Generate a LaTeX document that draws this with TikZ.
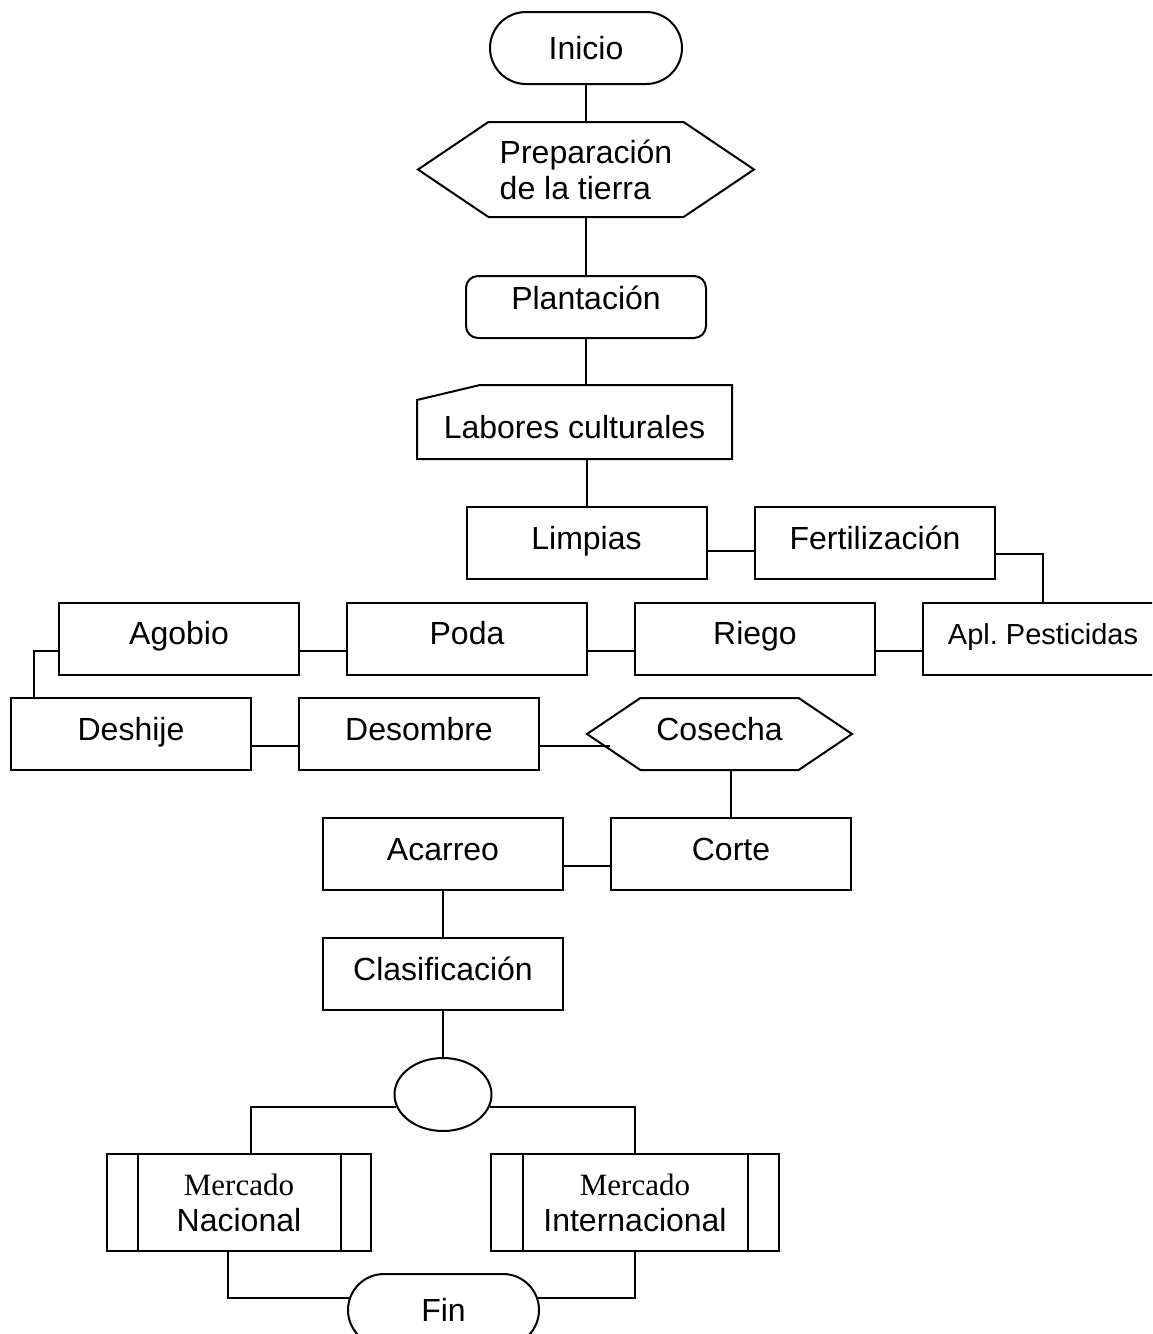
\documentclass[tikz,border=0pt]{standalone}
\usepackage{fontspec}
\setmainfont{Liberation Sans}
\newfontfamily\serifmerc{Liberation Serif}
\usetikzlibrary{shapes.geometric,shapes.misc,shapes.symbols}
\tikzset{
	caja/.style={draw, rectangle, minimum width=120pt, minimum height=36pt, inner sep=0pt, text height=11pt, text depth=5pt},
	terminal/.style={draw, rounded rectangle, minimum width=96pt, minimum height=36pt, inner sep=0pt},
	hexa/.style={draw, signal, signal to=west and east, signal pointer angle=68, inner sep=0pt},
	subproc/.style={draw, rectangle, minimum height=48.5pt, inner sep=0pt, align=center},
}
\begin{document}
\begin{tikzpicture}[x=0.5pt, y=-0.5pt, line width=1pt, font=\fontsize{16pt}{18pt}\selectfont]
	\clip (0,0) rectangle (1152,1334);
	\fill[white] (0,0) rectangle (1152,1334);

	\node[terminal] (inicio) at (586,48) {Inicio};
	\node[hexa, minimum width=168pt, minimum height=47.5pt, align=left] (prep) at (586,169.5) {Preparación\\de la tierra};
	\node[draw, rectangle, rounded corners=6pt, minimum width=120pt, minimum height=31pt, inner sep=0pt, text height=8pt, text depth=5.3pt] (plant) at (586,307) {Plantación};

	\node[rectangle, minimum width=156.5pt, minimum height=36pt, inner sep=0pt, text height=16.7pt, text depth=0pt] (labores) at (574.5,422) {Labores culturales\hspace{5pt}};
	\draw (labores.south west) -- ([yshift=-7.5pt]labores.north west) -- ([xshift=31.5pt]labores.north west) -- (labores.north east) -- (labores.south east) -- cycle;

	\node[caja] (limp) at (586.5,543) {Limpias};
	\node[caja] (fert) at (875,543) {Fertilización};
	\node[caja, font=\fontsize{14.5pt}{17pt}\selectfont] (apl) at (1043,638.5) {Apl.\ Pesticidas};
	\node[caja] (riego) at (755,638.5) {Riego};
	\node[caja] (poda) at (467,638.5) {Poda};
	\node[caja] (agob) at (179,638.5) {Agobio};
	\node[caja] (desh) at (131,734) {Deshije};
	\node[caja] (desom) at (419,734) {Desombre};
	\node[hexa, minimum width=132.5pt, minimum height=36pt, text height=11pt, text depth=5pt] (cosecha) at (719.5,734) {Cosecha};
	\node[caja] (corte) at (731,854) {Corte};
	\node[caja] (acar) at (443,854) {Acarreo};
	\node[caja] (clas) at (443,974) {Clasificación};
	\node[draw, ellipse, minimum width=48.5pt, minimum height=36.5pt, inner sep=0pt] (circ) at (443,1094.5) {};

	\node[subproc, minimum width=132pt] (nac) at (239,1202.5) {{\serifmerc\fontsize{15.5pt}{18pt}\selectfont Mercado}\\Nacional};
	\draw ([xshift=16pt]nac.north west) -- ([xshift=16pt]nac.south west);
	\draw ([xshift=-15.5pt]nac.north east) -- ([xshift=-15.5pt]nac.south east);
	\node[subproc, minimum width=144pt] (inter) at (635,1202.5) {{\serifmerc\fontsize{15.5pt}{18pt}\selectfont Mercado}\\Internacional};
	\draw ([xshift=16.5pt]inter.north west) -- ([xshift=16.5pt]inter.south west);
	\draw ([xshift=-16pt]inter.north east) -- ([xshift=-16pt]inter.south east);
	\node[terminal, minimum width=95.5pt] (fin) at (443.5,1310) {Fin};

	\draw (inicio.south) -- (prep.north);
	\draw (prep.south) -- (plant.north);
	\draw (plant.south) -- (plant.south |- labores.north);
	\draw (limp.north |- labores.south) -- (limp.north);
	\draw ([yshift=-4pt]limp.east) -- ([yshift=-4pt]fert.west);
	\draw ([yshift=-5.5pt]fert.east) -| (apl.north);
	\draw ([yshift=-6pt]riego.east) -- ([yshift=-6pt]apl.west);
	\draw ([yshift=-6pt]poda.east) -- ([yshift=-6pt]riego.west);
	\draw ([yshift=-6pt]agob.east) -- ([yshift=-6pt]poda.west);
	\draw ([yshift=-6pt]agob.west) -| ([xshift=12pt]desh.north west);
	\draw ([yshift=-6pt]desh.east) -- ([yshift=-6pt]desom.west);
	\draw ([yshift=-6pt]desom.east) -- ([xshift=12.5pt,yshift=-6pt]cosecha.west);
	\draw (cosecha.south -| corte.north) -- (corte.north);
	\draw ([yshift=-6pt]acar.east) -- ([yshift=-6pt]corte.west);
	\draw (acar.south) -- (clas.north);
	\draw (clas.south) -- (circ.north);
	\draw (circ.195) -| ([xshift=6pt]nac.north);
	\draw (circ.345) -| (inter.north);
	\draw ([xshift=-5.5pt]nac.south) |- (fin.173);
	\draw (inter.south) |- (fin.7);
\end{tikzpicture}
\end{document}
